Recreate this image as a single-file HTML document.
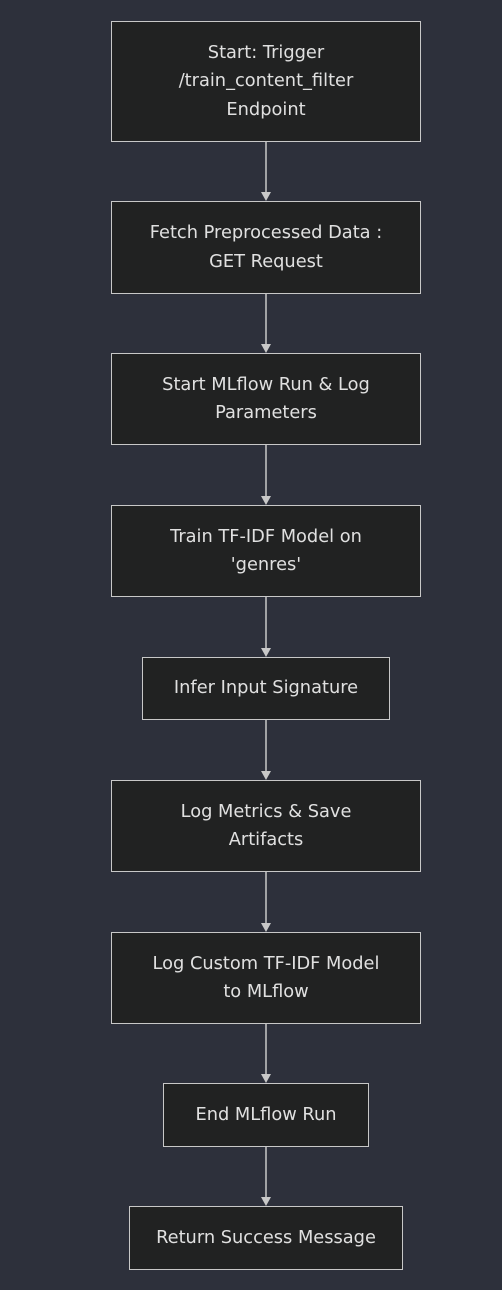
<!DOCTYPE html>
<html><head><style>
html,body{margin:0;padding:0;background:#2d303b;width:502px;height:1290px;overflow:hidden}
.b{position:absolute;box-sizing:border-box;background:#212222;border:1.5px solid #c8c8c8;color:#e0e0e0;font-family:"DejaVu Sans","Liberation Sans",sans-serif;font-size:17.8px;line-height:28.5px;display:flex;align-items:center;justify-content:center;text-align:center}
svg{position:absolute;left:0;top:0}
</style></head><body>
<svg width="502" height="1290">
<g stroke="#c8c8c8" stroke-width="1.5">
<line x1="266" y1="142" x2="266" y2="193"/>
<line x1="266" y1="294" x2="266" y2="345"/>
<line x1="266" y1="445" x2="266" y2="497"/>
<line x1="266" y1="597" x2="266" y2="649"/>
<line x1="266" y1="720" x2="266" y2="772"/>
<line x1="266" y1="872" x2="266" y2="924"/>
<line x1="266" y1="1024" x2="266" y2="1075"/>
<line x1="266" y1="1147" x2="266" y2="1198"/>
</g>
<g fill="#c8c8c8">
<path d="M261,192 L271,192 L266,201 z"/>
<path d="M261,344 L271,344 L266,353 z"/>
<path d="M261,496 L271,496 L266,505 z"/>
<path d="M261,648 L271,648 L266,657 z"/>
<path d="M261,771 L271,771 L266,780 z"/>
<path d="M261,923 L271,923 L266,932 z"/>
<path d="M261,1074 L271,1074 L266,1083 z"/>
<path d="M261,1197 L271,1197 L266,1206 z"/>
</g></svg>
<div class="b" style="left:111px;top:21px;width:310px;height:121px">Start: Trigger<br>/train_content_filter<br>Endpoint</div>
<div class="b" style="left:111px;top:201px;width:310px;height:93px">Fetch Preprocessed Data :<br>GET Request</div>
<div class="b" style="left:111px;top:353px;width:310px;height:92px">Start MLflow Run &amp; Log<br>Parameters</div>
<div class="b" style="left:111px;top:505px;width:310px;height:92px">Train TF-IDF Model on<br>'genres'</div>
<div class="b" style="left:142px;top:657px;width:248px;height:63px">Infer Input Signature</div>
<div class="b" style="left:111px;top:780px;width:310px;height:92px">Log Metrics &amp; Save<br>Artifacts</div>
<div class="b" style="left:111px;top:932px;width:310px;height:92px">Log Custom TF-IDF Model<br>to MLflow</div>
<div class="b" style="left:163px;top:1083px;width:206px;height:64px">End MLflow Run</div>
<div class="b" style="left:129px;top:1206px;width:274px;height:64px">Return Success Message</div>
</body></html>
